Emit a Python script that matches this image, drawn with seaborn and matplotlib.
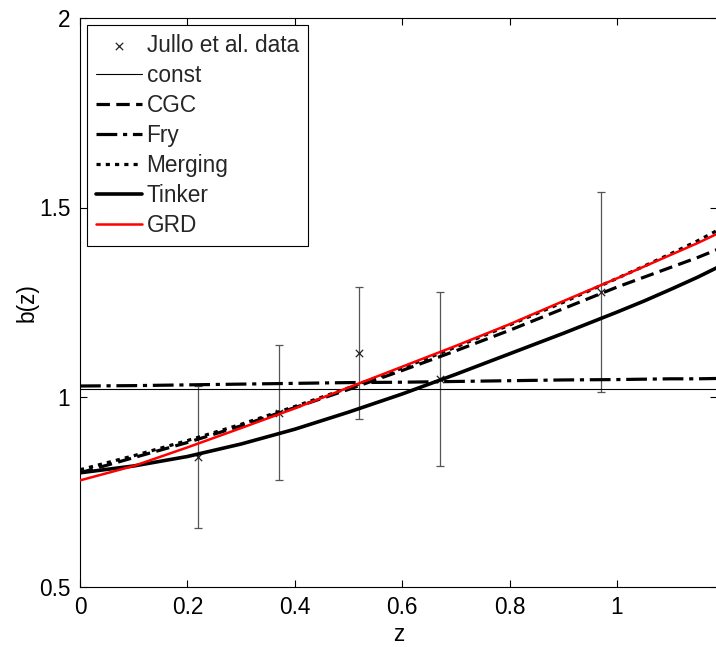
import numpy as np
import pandas as pd
import matplotlib
matplotlib.use("Agg")
import matplotlib.pyplot as plt
import seaborn as sns
from matplotlib.ticker import FuncFormatter

# ---- data ----
z_grid = [0.0, 0.1, 0.2, 0.3, 0.4, 0.5, 0.6, 0.7, 0.8, 0.9, 1.0, 1.05, 1.1, 1.15, 1.19]
b_const = [1.02] * 15
b_cgc = [0.800, 0.840, 0.880, 0.924, 0.972, 1.020, 1.070, 1.122, 1.176, 1.233, 1.290, 1.316, 1.342, 1.368, 1.391]
b_fry = [1.029, 1.030, 1.032, 1.034, 1.036, 1.038, 1.039, 1.041, 1.043, 1.045, 1.046, 1.047, 1.048, 1.048, 1.049]
b_merging = [0.808, 0.845, 0.885, 0.928, 0.975, 1.024, 1.076, 1.132, 1.190, 1.250, 1.313, 1.345, 1.378, 1.412, 1.442]
b_tinker = [0.800, 0.818, 0.843, 0.876, 0.915, 0.960, 1.008, 1.060, 1.114, 1.168, 1.224, 1.253, 1.284, 1.316, 1.344]
b_grd = [0.780, 0.818, 0.867, 0.918, 0.970, 1.025, 1.080, 1.135, 1.192, 1.253, 1.313, 1.344, 1.375, 1.406, 1.433]

jullo_z = [0.22, 0.37, 0.52, 0.67, 0.97]
jullo_b = [0.842, 0.958, 1.117, 1.047, 1.278]
jullo_err = [0.188, 0.178, 0.174, 0.230, 0.264]

x_ticks = [0, 0.2, 0.4, 0.6, 0.8, 1.0]
y_ticks = [0.5, 1.0, 1.5, 2.0]

sns.set_theme(style="white")
plt.rcParams["font.family"] = ["Liberation Sans", "DejaVu Sans"]

FS = 16.3

fig = plt.figure(figsize=(7.16, 6.47), dpi=100)
ax = fig.add_axes([80 / 716, 1 - 586.5 / 647, 637 / 716, 568.5 / 647])

ax.errorbar(jullo_z, jullo_b, yerr=jullo_err, fmt="none", ecolor="#555555",
            elinewidth=0.9, capsize=3.2, capthick=0.9, zorder=2)

sns.scatterplot(x=jullo_z, y=jullo_b, ax=ax, marker="x", s=28, color="#222222",
                linewidth=0.9, label="Jullo et al. data", zorder=3)

df = pd.DataFrame({"z": z_grid, "const": b_const, "CGC": b_cgc, "Fry": b_fry,
                   "Merging": b_merging, "Tinker": b_tinker, "GRD": b_grd})

styles = {
    "const": dict(color="black", lw=0.8, linestyle="-"),
    "CGC": dict(color="black", lw=2.3, linestyle=(0, (4.2, 2.0))),
    "Fry": dict(color="black", lw=2.3, linestyle=(0, (6.5, 1.8, 1.3, 1.8))),
    "Merging": dict(color="black", lw=2.3, linestyle=(0, (1.3, 1.6))),
    "Tinker": dict(color="black", lw=2.6, linestyle="-"),
    "GRD": dict(color="#ff0000", lw=1.8, linestyle="-"),
}
for name in ["const", "CGC", "Fry", "Merging", "Tinker", "GRD"]:
    st = styles[name]
    sns.lineplot(data=df, x="z", y=name, ax=ax, color=st["color"], linewidth=st["lw"],
                 linestyle=st["linestyle"], label=name, sort=False, errorbar=None,
                 zorder=4)

ax.set_xlim(0, 637 / 537)
ax.set_ylim(0.5, 2.0)
ax.set_xticks(x_ticks)
ax.set_yticks(y_ticks)
fmt = FuncFormatter(lambda v, p: f"{v:g}")
ax.xaxis.set_major_formatter(fmt)
ax.yaxis.set_major_formatter(fmt)
ax.tick_params(direction="in", length=5, width=0.8, color="black",
               top=True, right=True, bottom=True, left=True,
               labelsize=FS, labelcolor="black", pad=7)
for s in ax.spines.values():
    s.set_color("black")
    s.set_linewidth(0.8)

ax.set_xlabel("z", fontsize=FS, color="black", labelpad=3)
ax.set_ylabel("b(z)", fontsize=FS, color="black", labelpad=0)

handles, labels = ax.get_legend_handles_labels()
order = ["Jullo et al. data", "const", "CGC", "Fry", "Merging", "Tinker", "GRD"]
hmap = dict(zip(labels, handles))
leg = ax.legend([hmap[o] for o in order], order, loc="upper left",
                bbox_to_anchor=(7.3 / 637, 1 - 7 / 568.5), borderaxespad=0,
                fontsize=FS, frameon=True, fancybox=False, framealpha=1,
                edgecolor="black", handlelength=2.0, handletextpad=0.22,
                borderpad=0.4, labelspacing=0.31)
leg.get_frame().set_linewidth(0.8)

fig.savefig("out.png", dpi=100, facecolor="white")
